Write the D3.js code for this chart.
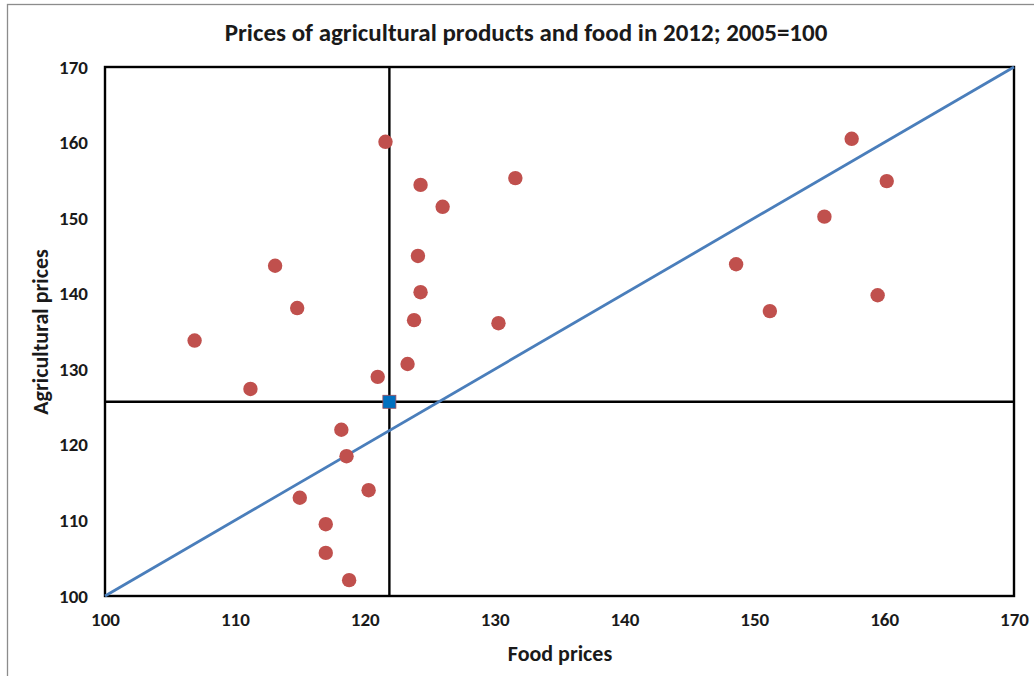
<!DOCTYPE html>
<html>
<head>
<meta charset="utf-8">
<script src="https://cdn.jsdelivr.net/npm/d3@7"></script>
<style>
  html, body { margin: 0; padding: 0; background: #fff; }
  svg { display: block; }
</style>
</head>
<body>
<svg id="chart" width="1034" height="676"></svg>
<script>
// Price indices, 2012 (2005 = 100), one entry per country
const foodPrices = [106.9, 111.2, 113.1, 114.8, 115.0, 117.0, 117.0, 118.8, 118.2, 118.6,
                    120.3, 121.0, 121.6, 123.3, 123.8, 124.3, 124.1, 124.3, 126.0, 131.6,
                    130.3, 148.6, 151.2, 155.4, 157.5, 160.2, 159.5];
const agriPrices = [133.8, 127.4, 143.7, 138.1, 113.0, 109.5, 105.7, 102.1, 122.0, 118.5,
                    114.0, 129.0, 160.1, 130.7, 136.5, 140.2, 145.0, 154.4, 151.5, 155.3,
                    136.1, 143.9, 137.7, 150.2, 160.5, 154.9, 139.8];
// Average position marked by the crosshair
const meanPoint = [121.9, 125.7];
// Equal-growth reference line
const diagonal = [[100, 100], [170, 170]];
const tickValues = [100, 110, 120, 130, 140, 150, 160, 170];

const svg = d3.select("#chart");
const font = "Carlito, Lato, 'Open Sans', sans-serif";

const plotLeft = 105, plotRight = 1014, plotTop = 67, plotBottom = 596;
const x = d3.scaleLinear().domain([100, 170]).range([plotLeft, plotRight]);
const y = d3.scaleLinear().domain([100, 170]).range([plotBottom, plotTop]);

// Outer chart frame
svg.append("rect")
  .attr("x", 7.5).attr("y", 4.5).attr("width", 1040).attr("height", 700)
  .attr("fill", "none").attr("stroke", "#8c8c8c").attr("stroke-width", 1.3);

// Title
svg.append("text")
  .attr("x", 526).attr("y", 41)
  .attr("text-anchor", "middle")
  .attr("font-family", font).attr("font-weight", "bold").attr("font-size", 25)
  .attr("fill", "#1a1a1a")
  .text("Prices of agricultural products and food in 2012; 2005=100");

// Axes (labels only, no tick marks)
const xAxis = d3.axisBottom(x).tickValues(tickValues).tickSize(0).tickPadding(17);
const yAxis = d3.axisLeft(y).tickValues(tickValues).tickSize(0).tickPadding(17);

const gx = svg.append("g").attr("transform", `translate(0,${plotBottom})`).call(xAxis);
const gy = svg.append("g").attr("transform", `translate(${plotLeft},0)`).call(yAxis);
[gx, gy].forEach(g => {
  g.select(".domain").remove();
  g.selectAll("text")
    .attr("font-family", font).attr("font-weight", "bold").attr("font-size", 19)
    .attr("fill", "#1a1a1a");
});

// Axis titles
svg.append("text")
  .attr("x", 560).attr("y", 661)
  .attr("text-anchor", "middle")
  .attr("font-family", font).attr("font-weight", "bold").attr("font-size", 22)
  .attr("fill", "#1a1a1a")
  .text("Food prices");
svg.append("text")
  .attr("transform", "translate(48,332) rotate(-90)")
  .attr("text-anchor", "middle")
  .attr("font-family", font).attr("font-weight", "bold").attr("font-size", 22)
  .attr("fill", "#1a1a1a")
  .text("Agricultural prices");

// Plot area border
svg.append("rect")
  .attr("x", plotLeft).attr("y", plotTop)
  .attr("width", plotRight - plotLeft).attr("height", plotBottom - plotTop)
  .attr("fill", "none").attr("stroke", "#000").attr("stroke-width", 2.4);

// Crosshair through the mean
svg.append("line")
  .attr("x1", x(meanPoint[0])).attr("x2", x(meanPoint[0]))
  .attr("y1", plotTop).attr("y2", plotBottom)
  .attr("stroke", "#000").attr("stroke-width", 2.4);
svg.append("line")
  .attr("x1", plotLeft).attr("x2", plotRight)
  .attr("y1", y(meanPoint[1])).attr("y2", y(meanPoint[1]))
  .attr("stroke", "#000").attr("stroke-width", 2.4);

// Diagonal line
svg.append("path")
  .datum(diagonal)
  .attr("d", d3.line().x(d => x(d[0])).y(d => y(d[1])))
  .attr("fill", "none").attr("stroke", "#4a7ebb").attr("stroke-width", 2.8);

// Country points
svg.append("g").selectAll("circle")
  .data(foodPrices.map((f, i) => [f, agriPrices[i]]))
  .join("circle")
  .attr("cx", d => x(d[0])).attr("cy", d => y(d[1]))
  .attr("r", 7.2)
  .attr("fill", "#c0504d");

// Mean marker
svg.append("rect")
  .attr("x", x(meanPoint[0]) - 6.5).attr("y", y(meanPoint[1]) - 6.5)
  .attr("width", 13).attr("height", 13)
  .attr("fill", "#0070c0").attr("stroke", "#9b4b5a").attr("stroke-width", 0.8);
</script>
</body>
</html>
